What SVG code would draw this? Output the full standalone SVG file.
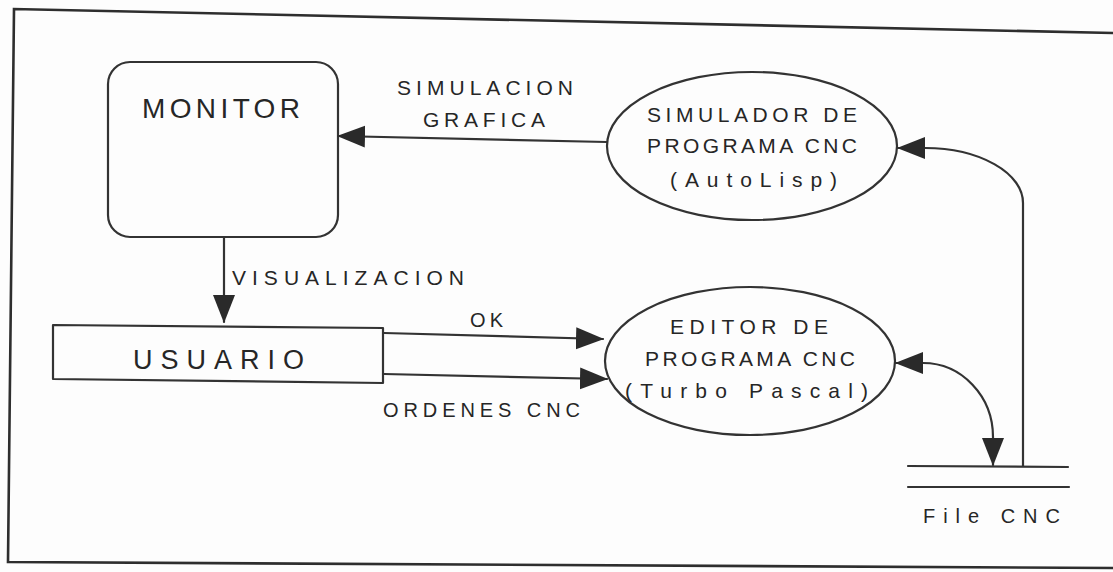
<svg xmlns="http://www.w3.org/2000/svg" width="1113" height="572" viewBox="0 0 1113 572">
  <style>
    .ln { fill: none; stroke: #333; stroke-width: 2.2; stroke-linejoin: round; stroke-linecap: round; }
    .fr { fill: none; stroke: #2e2e2e; stroke-width: 2.6; }
    .tx { font-family: "Liberation Sans", "DejaVu Sans", sans-serif; fill: #262626; }
    .t21 { font-size: 21px; }
    .t20 { font-size: 20px; }
    .t27 { font-size: 27px; }
    .t28 { font-size: 28px; }
  </style>
  <defs>
    <marker id="ah" markerUnits="userSpaceOnUse" markerWidth="28" markerHeight="24" viewBox="0 0 28 24" refX="27" refY="12" orient="auto-start-reverse">
      <path d="M0,1 L28,12 L0,23 z" fill="#2a2a2a"/>
    </marker>
  </defs>
  <rect width="1113" height="572" fill="#fdfdfd"/>
  <g id="frame">
    <path class="fr" d="M1113,33 L14,9 L8,562 L1113,568"/>
  </g>
  <g id="monitor">
    <rect class="ln" x="108" y="62" width="230" height="175" rx="22" ry="22"/>
    <text class="tx t28" x="142" y="118" textLength="158" lengthAdjust="spacing">MONITOR</text>
  </g>
  <g id="usuario">
    <path class="ln" d="M53,325 L383,328 L383,383 L53,379 Z"/>
    <text class="tx t27" x="133" y="369" textLength="171" lengthAdjust="spacing">USUARIO</text>
  </g>
  <g id="simulador">
    <ellipse class="ln" cx="752" cy="146" rx="145" ry="74"/>
    <text class="tx t21" x="647" y="122" textLength="210" lengthAdjust="spacing">SIMULADOR DE</text>
    <text class="tx t21" x="647" y="153" textLength="210" lengthAdjust="spacing">PROGRAMA CNC</text>
    <text class="tx t21" x="670" y="187" textLength="167" lengthAdjust="spacing">(AutoLisp)</text>
  </g>
  <g id="editor">
    <ellipse class="ln" cx="750" cy="361" rx="145" ry="74"/>
    <text class="tx t21" x="670" y="334" textLength="158" lengthAdjust="spacing">EDITOR DE</text>
    <text class="tx t21" x="645" y="366" textLength="210" lengthAdjust="spacing">PROGRAMA CNC</text>
    <text class="tx t21" x="625" y="398" textLength="243" lengthAdjust="spacing">(Turbo Pascal)</text>
  </g>
  <g id="file-cnc">
    <line class="ln" x1="908" y1="466" x2="1068" y2="467"/>
    <line class="ln" x1="908" y1="487" x2="1069" y2="487"/>
    <text class="tx t20" x="923" y="523" textLength="137" lengthAdjust="spacing">File CNC</text>
  </g>
  <g id="connectors">
    <path class="ln" d="M607,142 L338,136" marker-end="url(#ah)"/>
    <text class="tx t21" x="397" y="95" textLength="176" lengthAdjust="spacing">SIMULACION</text>
    <text class="tx t21" x="423" y="127" textLength="122" lengthAdjust="spacing">GRAFICA</text>
    <path class="ln" d="M224,238 L224,322" marker-end="url(#ah)"/>
    <text class="tx t21" x="232" y="285" textLength="232" lengthAdjust="spacing">VISUALIZACION</text>
    <path class="ln" d="M384,333 L603,339" marker-end="url(#ah)"/>
    <text class="tx t20" x="470" y="327" textLength="33" lengthAdjust="spacing">OK</text>
    <path class="ln" d="M384,374 L607,379" marker-end="url(#ah)"/>
    <text class="tx t20" x="383" y="417" textLength="197" lengthAdjust="spacing">ORDENES CNC</text>
    <path class="ln" d="M1023,466 L1023,203 A98,55 0 0 0 925,148 L898,148" marker-end="url(#ah)"/>
    <path class="ln" d="M896,363 L923,363 A70,74 0 0 1 993,437 L993,465" marker-start="url(#ah)" marker-end="url(#ah)"/>
  </g>
</svg>
